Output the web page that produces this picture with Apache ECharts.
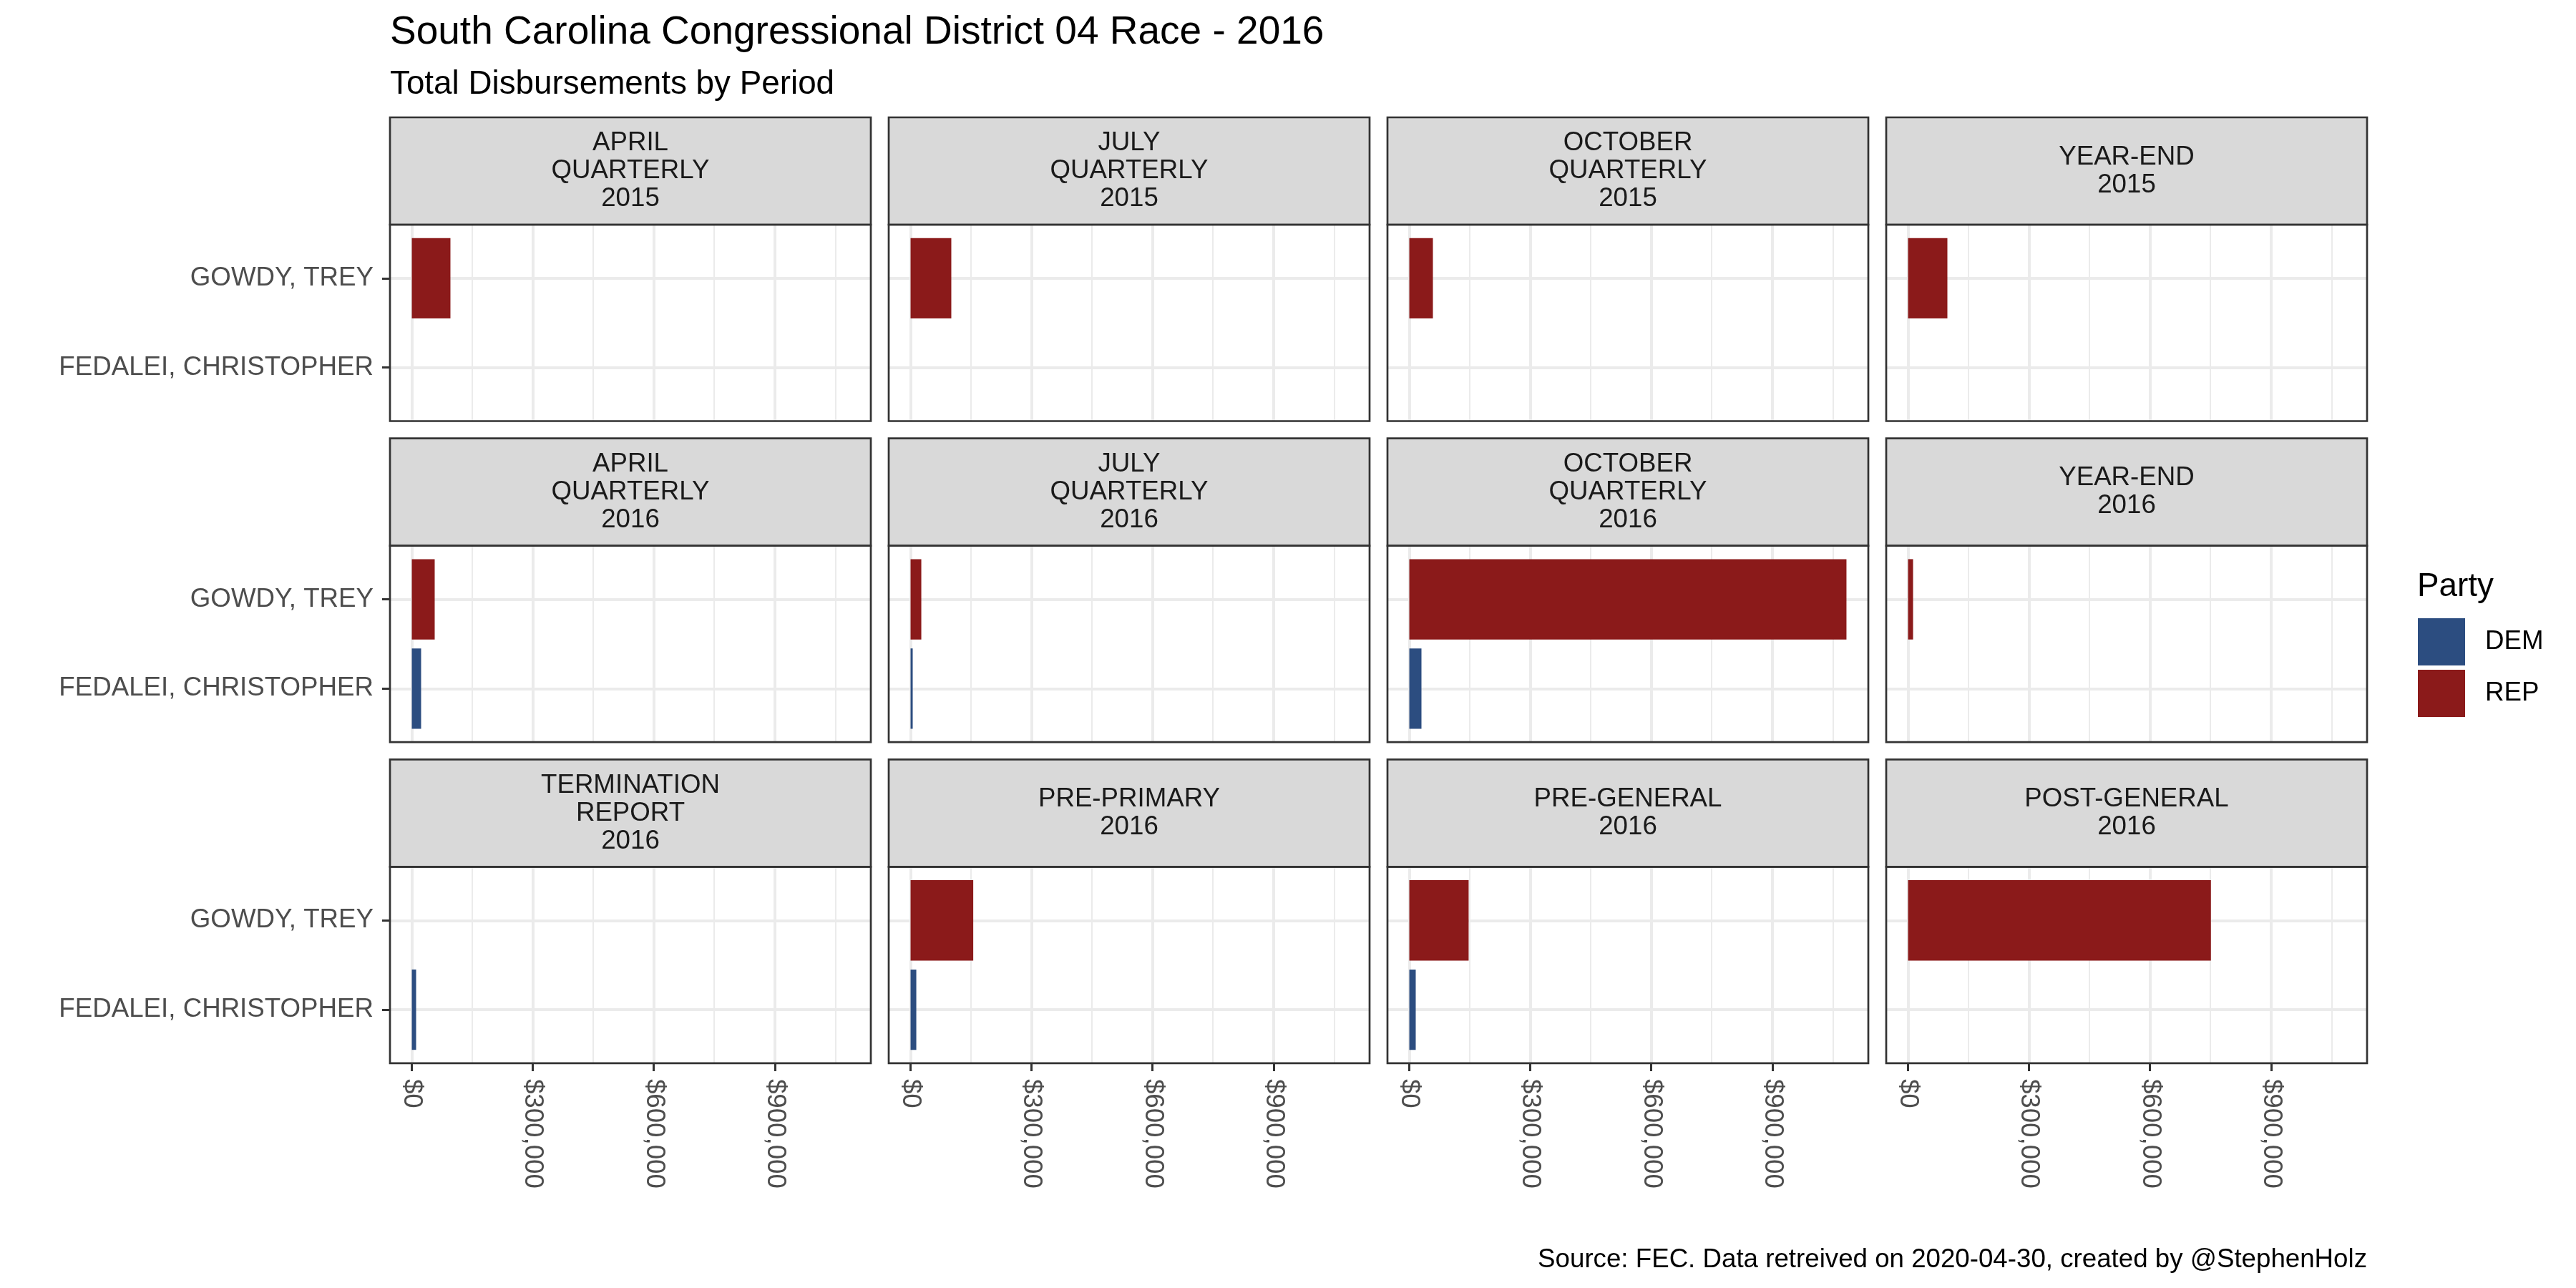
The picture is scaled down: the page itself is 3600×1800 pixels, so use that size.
<!DOCTYPE html>
<html>
<head>
<meta charset="utf-8">
<script src="https://cdn.jsdelivr.net/npm/echarts@6/dist/echarts.min.js"></script>
<style>
html,body{margin:0;padding:0;background:#ffffff;}
#chart{width:3600px;height:1800px;}
</style>
</head>
<body>
<div id="chart"></div>
<script>
// ---------------- data ----------------
const periods = [
  'APRIL\nQUARTERLY\n2015', 'JULY\nQUARTERLY\n2015', 'OCTOBER\nQUARTERLY\n2015', 'YEAR-END\n2015',
  'APRIL\nQUARTERLY\n2016', 'JULY\nQUARTERLY\n2016', 'OCTOBER\nQUARTERLY\n2016', 'YEAR-END\n2016',
  'TERMINATION\nREPORT\n2016', 'PRE-PRIMARY\n2016', 'PRE-GENERAL\n2016', 'POST-GENERAL\n2016'
];
const candidates = ['FEDALEI, CHRISTOPHER', 'GOWDY, TREY'];
const parties = ['DEM', 'REP'];
// FEDALEI, CHRISTOPHER (DEM) disbursements per period
const fedaleiDem = [null, null, null, null, 23000, 5300, 30100, null, 10600, 14200, 15900, null];
// GOWDY, TREY (REP) disbursements per period
const gowdyRep = [95700, 101000, 58500, 97500, 56700, 26600, 1084000, 12400, null, 155400, 147100, 751000];
const xMajorTicks = [0, 300000, 600000, 900000];
const xMinorTicks = [150000, 450000, 750000, 1050000];

// ---------------- styles / layout ----------------
const partyColors = { DEM: '#2C4D80', REP: '#8B1A1A' };
const FONT = '"Liberation Sans", Arial, Helvetica, sans-serif';
const L = { colLeft: 545, colPitch: 697, panelW: 672, rowTop: 164, rowPitch: 448.7, stripH: 150, panelH: 274.5 };

const allVals = fedaleiDem.concat(gowdyRep).filter(v => v != null);
const vmax = Math.max.apply(null, allVals);
const xMin = -0.05 * vmax, xMax = 1.05 * vmax;
const money = v => '$' + Math.round(v).toLocaleString('en-US');

const grid = [], xAxis = [], yAxis = [], series = [], graphic = [];

periods.forEach((name, p) => {
  const col = p % 4, row = Math.floor(p / 4);
  const left = L.colLeft + col * L.colPitch;
  const stripTop = L.rowTop + row * L.rowPitch;
  const top = stripTop + L.stripH;
  const unit = L.panelH / 2.2;     // discrete scale: 2 levels + 0.6 expansion each side
  const inset = 0.1 * unit;
  const bottomRow = row === 2, leftCol = col === 0;
  const gA = grid.length;
  grid.push({ left: left, top: top, width: L.panelW, height: L.panelH, containLabel: false, outerBoundsMode: 'none', show: false });
  const gB = grid.length;
  grid.push({ left: left, top: top + inset, width: L.panelW, height: L.panelH - 2 * inset, containLabel: false, outerBoundsMode: 'none', show: false });

  // major vertical grid + bottom labels
  xAxis.push({
    type: 'value', gridIndex: gA, min: xMin, max: xMax, position: 'bottom',
    axisLine: { show: false, onZero: false },
    axisTick: { show: bottomRow, customValues: xMajorTicks, length: 11, lineStyle: { color: '#333333', width: 3 } },
    axisLabel: { show: bottomRow, customValues: xMajorTicks, rotate: -90, margin: 22, formatter: money,
      color: '#4D4D4D', fontSize: 36.7, fontFamily: FONT },
    splitLine: { show: true, lineStyle: { color: '#EBEBEB', width: 4 } },
    minorSplitLine: { show: false }
  });
  // minor vertical grid
  xAxis.push({
    type: 'value', gridIndex: gA, min: xMin, max: xMax, position: 'top',
    axisLine: { show: false, onZero: false },
    axisTick: { show: false, customValues: xMinorTicks },
    axisLabel: { show: false },
    splitLine: { show: true, lineStyle: { color: '#EBEBEB', width: 2 } }
  });
  // value axis for bars
  const xB = xAxis.length;
  xAxis.push({ type: 'value', gridIndex: gB, min: xMin, max: xMax, show: false, axisLine: { onZero: false }, splitLine: { show: false } });

  yAxis.push({ type: 'category', gridIndex: gA, data: candidates, show: false, axisLine: { onZero: false } });
  const yB = yAxis.length;
  yAxis.push({
    type: 'category', gridIndex: gB, data: candidates, position: 'left',
    axisLine: { show: false, onZero: false },
    axisTick: { show: leftCol, alignWithLabel: true, length: 11, lineStyle: { color: '#333333', width: 3 } },
    axisLabel: { show: leftCol, interval: 0, margin: 23, color: '#4D4D4D', fontSize: 36.7, fontFamily: FONT },
    splitLine: { show: true, alignWithLabel: true, interval: 0, lineStyle: { color: '#EBEBEB', width: 4 } }
  });

  series.push({
    type: 'bar', name: 'DEM', xAxisIndex: xB, yAxisIndex: yB, stack: 'panel' + p, barWidth: '90%',
    itemStyle: { color: partyColors.DEM }, emphasis: { disabled: true },
    data: [fedaleiDem[p], null]
  });
  series.push({
    type: 'bar', name: 'REP', xAxisIndex: xB, yAxisIndex: yB, stack: 'panel' + p, barWidth: '90%',
    itemStyle: { color: partyColors.REP }, emphasis: { disabled: true },
    data: [null, gowdyRep[p]]
  });

  // strip
  graphic.push({ type: 'rect', silent: true, z: 100,
    shape: { x: left, y: stripTop, width: L.panelW, height: L.stripH },
    style: { fill: '#D9D9D9', stroke: '#333333', lineWidth: 2.7 } });
  graphic.push({ type: 'text', silent: true, z: 101, x: left + L.panelW / 2, y: stripTop + L.stripH / 2,
    style: { text: name, fill: '#1A1A1A', fontSize: 36.7, fontFamily: FONT, lineHeight: 39,
      textAlign: 'center', textVerticalAlign: 'middle', align: 'center', verticalAlign: 'middle' } });
  // panel border
  graphic.push({ type: 'rect', silent: true, z: 100,
    shape: { x: left, y: top, width: L.panelW, height: L.panelH },
    style: { fill: 'none', stroke: '#333333', lineWidth: 2.7 } });
});

const option = {
  animation: false,
  backgroundColor: '#ffffff',
  title: [
    { text: 'South Carolina Congressional District 04 Race - 2016', left: 545, top: 18, padding: 0,
      textStyle: { fontSize: 55, fontWeight: 'normal', color: '#000000', fontFamily: FONT } },
    { text: 'Total Disbursements by Period', left: 545, top: 95, padding: 0,
      textStyle: { fontSize: 45.8, fontWeight: 'normal', color: '#000000', fontFamily: FONT } },
    { text: 'Source: FEC. Data retreived on 2020-04-30, created by @StephenHolz', right: 292, top: 1742, padding: 0,
      textStyle: { fontSize: 36.7, fontWeight: 'normal', color: '#000000', fontFamily: FONT } },
    { text: 'Party', left: 3378, top: 797, padding: 0,
      textStyle: { fontSize: 45.8, fontWeight: 'normal', color: '#000000', fontFamily: FONT } }
  ],
  legend: {
    data: parties, orient: 'vertical', left: 3379, top: 864, padding: 0,
    itemWidth: 66, itemHeight: 66, itemGap: 6, icon: 'rect', selectedMode: false,
    itemStyle: { borderWidth: 0 },
    textStyle: { fontSize: 36.7, color: '#000000', fontFamily: FONT, padding: [0, 0, 0, 23] }
  },
  grid: grid, xAxis: xAxis, yAxis: yAxis, series: series, graphic: graphic
};

const chart = echarts.init(document.getElementById('chart'), null, { renderer: 'canvas' });
chart.setOption(option);
</script>
</body>
</html>
